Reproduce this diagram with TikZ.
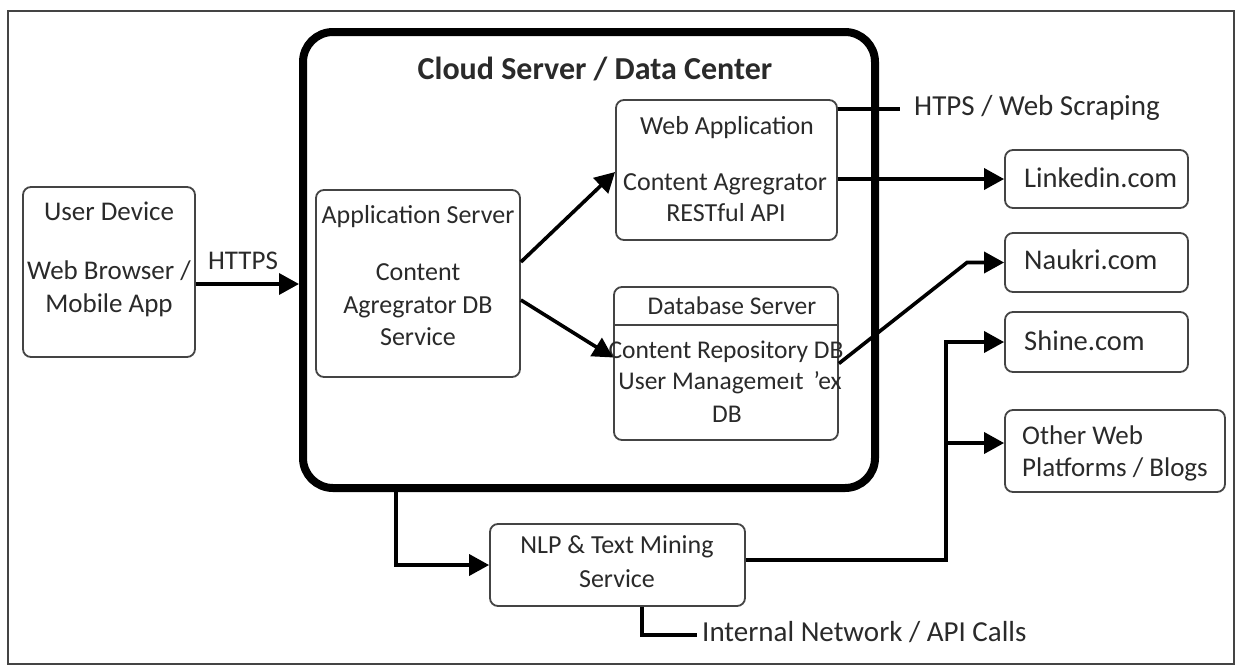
\documentclass[tikz,border=0pt]{standalone}
\usepackage{fontspec}
\setmainfont{Carlito}
\usetikzlibrary{arrows.meta}
\definecolor{ink}{HTML}{2A2A2A}
\definecolor{edge}{HTML}{444444}
\begin{document}
\begin{tikzpicture}[x=1pt,y=-1pt,
  box/.style={draw=edge, line width=1.8pt, rounded corners=8pt, inner sep=0pt},
  txt/.style={font=\fontsize{26}{30}\selectfont, text=ink, inner sep=0pt, text height=0.65em, text depth=0pt},
  big/.style={txt, font=\fontsize{28.5}{32}\selectfont},
  conn/.style={line width=3.6pt, black},
  arr/.style={conn, -{Triangle[length=20pt,width=21pt]}}]
\useasboundingbox (0,0) rectangle (1242,670);
\fill[white] (0,0) rectangle (1242,670);
\draw[draw=edge, line width=1.6pt] (8,11) rectangle (1234,664);

% boxes
\node[box, minimum width=172pt, minimum height=170pt] (ud) at (109,272) {};
\node[draw=black, line width=8pt, rounded corners=30pt, minimum width=572pt, minimum height=456pt, inner sep=0pt] (cloud) at (589,260) {};
\node[box, minimum width=204pt, minimum height=187pt] (app) at (418,283.5) {};
\node[box, minimum width=221pt, minimum height=140pt] (web) at (726.5,170) {};
\node[box, minimum width=224pt, minimum height=153pt] (db) at (726,363.5) {};
\coordinate (dbdiv) at (0,325);
\draw[draw=edge, line width=1.8pt] (db.west |- dbdiv) -- (db.east |- dbdiv);
\node[box, minimum width=183pt, minimum height=58pt] (li) at (1096.5,179) {};
\node[box, minimum width=183pt, minimum height=59pt] (nk) at (1096.5,262.5) {};
\node[box, minimum width=183pt, minimum height=60pt] (sh) at (1096.5,342) {};
\node[box, minimum width=220pt, minimum height=82pt] (ow) at (1115,451) {};
\node[box, minimum width=255pt, minimum height=82pt] (nlp) at (617.5,565) {};

% texts
\node[txt, font=\fontsize{27}{30}\selectfont] (t1) at (109,217) {User Device};
\node[txt, font=\fontsize{27}{30}\selectfont] (t2) at (109,276) {Web Browser /};
\node[txt, font=\fontsize{27}{30}\selectfont] (t3) at (109,309) {Mobile App};
\node[txt, font=\fontsize{27}{30}\selectfont] (https) at (243,266) {HTTPS};
\node[txt, font=\bfseries\fontsize{32}{36}\selectfont] (title) at (595,76) {Cloud Server / Data Center};
\node[txt] (a1) at (418,220) {Application Server};
\node[txt] (a2) at (418,277) {Content};
\node[txt] (a3) at (418,310) {Agregrator DB};
\node[txt] (a4) at (418,342) {Service};
\node[txt] (w1) at (727,131) {Web Application};
\node[txt] (w2) at (725,187) {Content Agregrator};
\node[txt] (w3) at (726,218) {RESTful API};
\node[txt, font=\fontsize{25.5}{30}\selectfont] (d1) at (732,311) {Database Server};
\node[txt, font=\fontsize{25.5}{30}\selectfont] (d2) at (726,355) {Content Repository DB};
\node[txt, font=\fontsize{25.5}{30}\selectfont] (d3) at (730,386) {User Managemeıt \,'ex};
\node[txt, font=\fontsize{25.5}{30}\selectfont] (d4) at (727,419) {DB};
\node[big, anchor=west] (l1) at (1024,184) {Linkedin.com};
\node[big, anchor=west] (n1) at (1024,266) {Naukri.com};
\node[big, anchor=west] (s1) at (1024,347) {Shine.com};
\node[txt, font=\fontsize{27}{30}\selectfont, anchor=west] (o1) at (1022,441) {Other Web};
\node[txt, font=\fontsize{27}{30}\selectfont, anchor=west] (o2) at (1022,473) {Platforms / Blogs};
\node[txt] (p1) at (617,550) {NLP \& Text Mining};
\node[txt] (p2) at (617,584) {Service};
\node[big, font=\fontsize{29}{32}\selectfont, anchor=west] (htps) at (914,112) {HTPS / Web Scraping};
\node[big, font=\fontsize{29}{32}\selectfont, anchor=west] (inet) at (702,638) {Internal Network / API Calls};

% connectors
\coordinate (hy) at (0,284);
\draw[arr] (ud.east |- hy) -- (cloud.west |- hy);
\draw[arr] ([yshift=21.5pt]app.east) -- ([yshift=-2pt]web.west);
\draw[arr] ([yshift=-16.5pt]app.east) -- ([yshift=6pt]db.west);
\draw[arr] (web.east |- li.west) -- (li.west);
\coordinate (hend) at (900,109);
\draw[conn] (web.east |- hend) -- (hend);
\coordinate (nkk) at (967,262.5);
\draw[arr] (db.east) -- (nkk) -- (nk.west);
\coordinate (bus) at (946,560);
\draw[conn] (nlp.east |- bus) -- (bus) -- (bus |- sh.west);
\draw[arr] ([xshift=-1.8pt]bus |- sh.west) -- (sh.west);
\coordinate (owy) at (0,443);
\draw[arr] (bus |- owy) -- (ow.west |- owy);
\coordinate (cdrop) at (396,0);
\draw[arr] (cdrop |- cloud.south) -- (cdrop |- nlp.west) -- (nlp.west);
\coordinate (iy) at (642,635);
\draw[conn] (iy |- nlp.south) -- (iy) -- (697,635) coordinate (iend);
\end{tikzpicture}
\end{document}
